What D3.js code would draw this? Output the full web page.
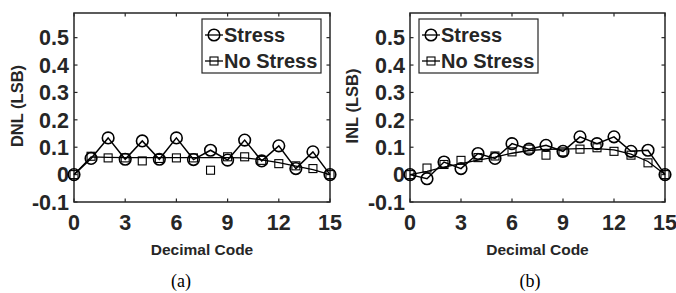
<!DOCTYPE html>
<html>
<head>
<meta charset="utf-8">
<script src="https://cdn.jsdelivr.net/npm/d3@7"></script>
<style>
  body { margin: 0; background: #fff; }
  svg { display: block; }
  text { font-family: "Liberation Sans", Arimo, Arial, Helvetica, sans-serif; font-weight: bold; fill: #262626; }
  .cap { font-family: "Liberation Serif", "Times New Roman", serif; font-weight: normal; fill: #000; }
</style>
</head>
<body>
<div id="chart"></div>
<script>
// x values (decimal code)
var codes = d3.range(0, 16);
var xTicks = [0, 3, 6, 9, 12, 15];
var yTicks = [-0.1, 0, 0.1, 0.2, 0.3, 0.4, 0.5];
var yTickLabels = ["-0.1", "0", "0.1", "0.2", "0.3", "0.4", "0.5"];

// DNL panel
var dnlStress   = [0, 0.059, 0.134, 0.056, 0.123, 0.056, 0.134, 0.055, 0.089, 0.053, 0.126, 0.050, 0.105, 0.022, 0.083, 0];
var dnlNoStress = [0, 0.067, 0.061, 0.061, 0.050, 0.059, 0.061, 0.061, 0.016, 0.065, 0.065, 0.052, 0.040, 0.032, 0.022, 0];
var dnlNoStressLine = [0, 0.065, 0.063, 0.062, 0.062, 0.062, 0.062, 0.062, 0.062, 0.062, 0.061, 0.054, 0.044, 0.031, 0.018, 0];

// INL panel
var inlStress   = [0, -0.015, 0.046, 0.022, 0.077, 0.059, 0.113, 0.093, 0.107, 0.085, 0.138, 0.113, 0.138, 0.085, 0.089, 0];
var inlNoStress = [0, 0.024, 0.037, 0.052, 0.062, 0.068, 0.083, 0.093, 0.071, 0.083, 0.093, 0.098, 0.085, 0.071, 0.043, 0];
var inlNoStressLine = [0, 0.012, 0.027, 0.040, 0.053, 0.064, 0.078, 0.088, 0.092, 0.093, 0.095, 0.095, 0.090, 0.075, 0.048, 0];

var W = 676, H = 293;
var svg = d3.select("#chart").append("svg")
    .attr("width", W)
    .attr("height", H);

var panels = [
  {left: 74, right: 330, ylabel: "DNL (LSB)", ylabX: 18, cap: "(a)", capX: 181,
   stress: dnlStress, noStress: dnlNoStress, line: dnlNoStressLine, legX: 202},
  {left: 410, right: 665, ylabel: "INL (LSB)", ylabX: 353, cap: "(b)", capX: 530,
   stress: inlStress, noStress: inlNoStress, line: inlNoStressLine, legX: 419}
];

var plotTop = 13, plotBottom = 202;

panels.forEach(function(p) {
  var x = d3.scaleLinear().domain([0, 15]).range([p.left, p.right]);
  var y = d3.scaleLinear().domain([-0.1, 0.59]).range([plotBottom, plotTop]);
  var g = svg.append("g");

  // ticks (inside, on all four sides)
  var tk = 3.5;
  xTicks.forEach(function(t) {
    g.append("line").attr("x1", x(t)).attr("x2", x(t)).attr("y1", plotBottom).attr("y2", plotBottom - tk)
      .attr("stroke", "#262626").attr("stroke-width", 1.2);
    g.append("line").attr("x1", x(t)).attr("x2", x(t)).attr("y1", plotTop).attr("y2", plotTop + tk)
      .attr("stroke", "#262626").attr("stroke-width", 1.2);
    g.append("text").attr("x", x(t)).attr("y", 230)
      .attr("text-anchor", "middle").style("font-size", "21.5px").text(t);
  });
  yTicks.forEach(function(t, i) {
    g.append("line").attr("x1", p.left).attr("x2", p.left + tk).attr("y1", y(t)).attr("y2", y(t))
      .attr("stroke", "#262626").attr("stroke-width", 1.2);
    g.append("line").attr("x1", p.right).attr("x2", p.right - tk).attr("y1", y(t)).attr("y2", y(t))
      .attr("stroke", "#262626").attr("stroke-width", 1.2);
    g.append("text").attr("x", p.left - 5).attr("y", y(t) + 7.8)
      .attr("text-anchor", "end").style("font-size", "21.5px").text(yTickLabels[i]);
  });

  // box
  g.append("rect").attr("x", p.left).attr("y", plotTop)
    .attr("width", p.right - p.left).attr("height", plotBottom - plotTop)
    .attr("fill", "none").attr("stroke", "#262626").attr("stroke-width", 1.5);

  // axis labels
  g.append("text").attr("x", (p.left + p.right) / 2).attr("y", 255)
    .attr("text-anchor", "middle").style("font-size", "15.5px").text("Decimal Code");
  g.append("text").attr("transform", "translate(" + (p.ylabX + 5) + "," + 106 + ") rotate(-90)")
    .attr("text-anchor", "middle").style("font-size", "16.5px").text(p.ylabel);
  g.append("text").attr("class", "cap").attr("x", p.capX).attr("y", 287)
    .attr("text-anchor", "middle").style("font-size", "18px").text(p.cap);

  var line = d3.line().x(function(d, i) { return x(codes[i]); }).y(function(d) { return y(d); });

  // No Stress: smooth line + squares
  g.append("path").attr("d", line(p.line))
    .attr("fill", "none").attr("stroke", "#000").attr("stroke-width", 1.3);
  var s = 8;
  g.selectAll("rect.sq").data(p.noStress).enter().append("rect")
    .attr("class", "sq")
    .attr("x", function(d, i) { return x(codes[i]) - s / 2; })
    .attr("y", function(d) { return y(d) - s / 2; })
    .attr("width", s).attr("height", s)
    .attr("fill", "none").attr("stroke", "#000").attr("stroke-width", 1.1);

  // Stress: line + circles
  g.append("path").attr("d", line(p.stress))
    .attr("fill", "none").attr("stroke", "#000").attr("stroke-width", 1.5);
  g.selectAll("circle.st").data(p.stress).enter().append("circle")
    .attr("class", "st")
    .attr("cx", function(d, i) { return x(codes[i]); })
    .attr("cy", function(d) { return y(d); })
    .attr("r", 5.8)
    .attr("fill", "none").attr("stroke", "#000").attr("stroke-width", 1.6);

  // legend
  var lg = g.append("g").attr("transform", "translate(" + p.legX + ",19)");
  lg.append("rect").attr("width", 119).attr("height", 54)
    .attr("fill", "#fff").attr("stroke", "#262626").attr("stroke-width", 1.2);
  lg.append("line").attr("x1", 3).attr("x2", 21).attr("y1", 16).attr("y2", 16)
    .attr("stroke", "#000").attr("stroke-width", 1.3);
  lg.append("circle").attr("cx", 12).attr("cy", 16).attr("r", 5.8)
    .attr("fill", "none").attr("stroke", "#000").attr("stroke-width", 1.5);
  lg.append("text").attr("x", 22).attr("y", 23).style("font-size", "20px").text("Stress");
  lg.append("line").attr("x1", 3).attr("x2", 21).attr("y1", 42).attr("y2", 42)
    .attr("stroke", "#000").attr("stroke-width", 1.3);
  lg.append("rect").attr("x", 8).attr("y", 38).attr("width", 8).attr("height", 8)
    .attr("fill", "none").attr("stroke", "#000").attr("stroke-width", 1.1);
  lg.append("text").attr("x", 22).attr("y", 49).style("font-size", "20px").text("No Stress");
});
</script>
</body>
</html>
